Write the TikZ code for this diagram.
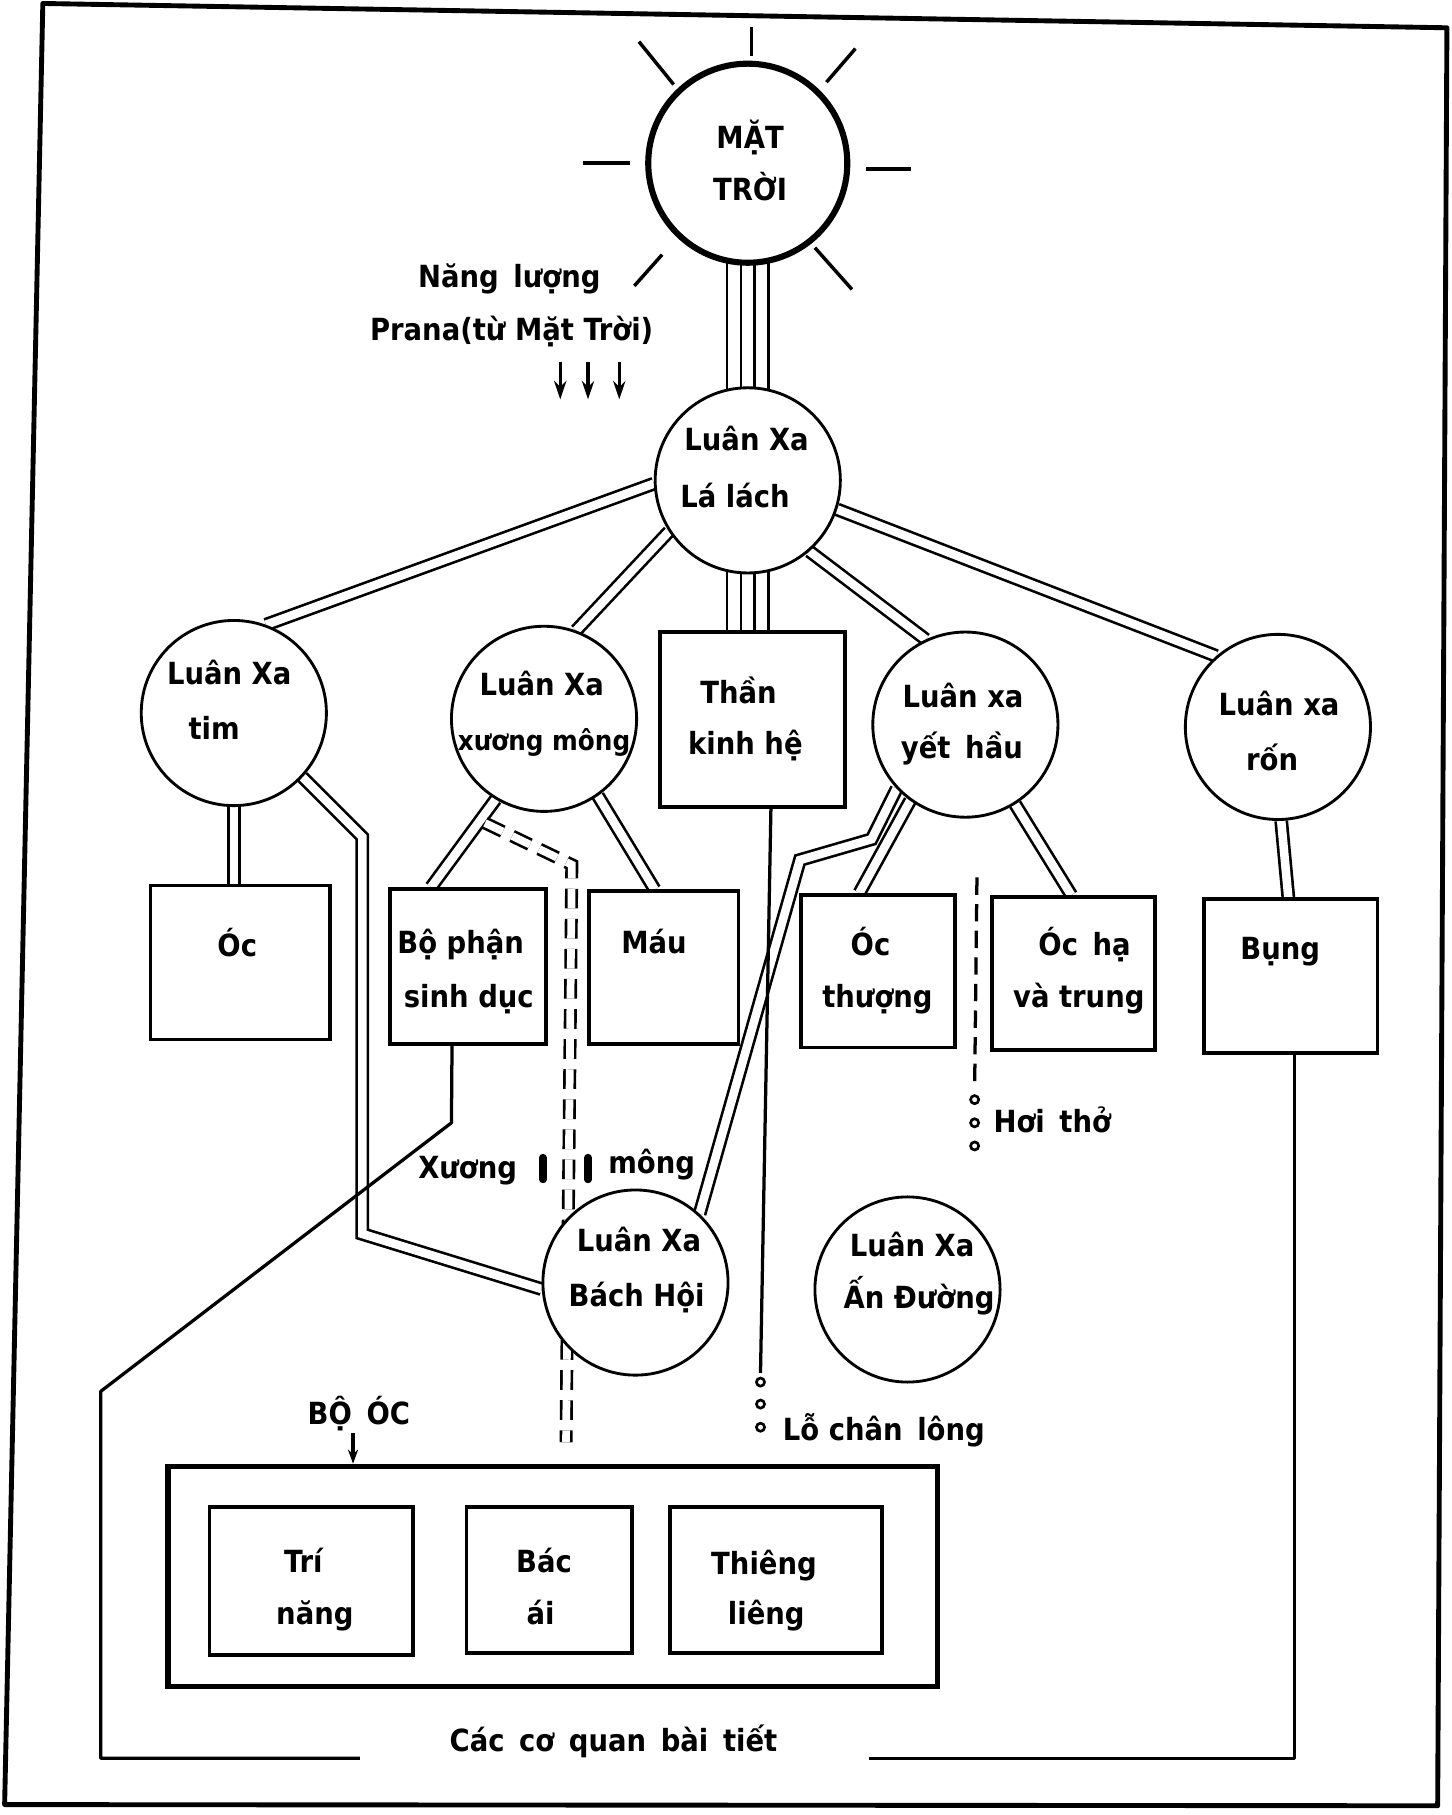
\documentclass[tikz,border=0pt]{standalone}
\usepackage{fontspec}
\setmainfont{DejaVu Sans Condensed}
\usetikzlibrary{calc,arrows.meta}
\pgfdeclarelayer{bg}
\pgfsetlayers{bg,main}
\begin{document}
\begin{tikzpicture}[x=0.02cm,y=-0.02cm,
  chakra/.style={circle,draw,line width=1.4pt,minimum size=3.2cm,inner sep=0pt,fill=white},
  organ/.style={rectangle,draw,line width=1.9pt,fill=white,inner sep=0pt},
  txt/.style={anchor=base,inner sep=0pt,yshift=-0.17cm,font=\bfseries\fontsize{15}{18}\selectfont},
  txtw/.style={txt,anchor=base west},
  dbl/.style={line width=1.3pt,double=white,double distance=4.2pt},
  dbldash/.style={line width=1.3pt,double=white,double distance=3.8pt,dash pattern=on 0.34cm off 0.18cm},
  quad/.style={line width=1.3pt},
  thinl/.style={line width=1.6pt},
  dotc/.style={circle,draw,line width=1.3pt,minimum size=0.14cm,inner sep=0pt,fill=white},
  ray/.style={line width=1.7pt},
]
\useasboundingbox (0,0) rectangle (1254,1568);

% outer frame
\draw[line width=2.4pt,line join=round] (37,3) -- (1250,24) -- (1242,1560) -- (4,1559) -- cycle;

% sun
\node[chakra,line width=3pt,minimum size=3.44cm] (sun) at (646,141) {};
\draw[ray] (649,23) -- (649,48);
\draw[ray] (552,36) -- (582,73);
\draw[ray] (739,42) -- (714,71);
\draw[ray] (504,141) -- (544,141);
\draw[ray] (748,146) -- (787,146);
\draw[ray] (572,220) -- (548,247);
\draw[ray] (704,214) -- (736,250);

% chakras
\node[chakra] (lalach) at (646,415) {};
\node[chakra] (tim) at (202,616) {};
\node[chakra] (xm) at (470,621) {};
\node[chakra] (yh) at (834,626) {};
\node[chakra] (ron) at (1104,628) {};
\node[chakra] (bh) at (549,1108) {};
\node[chakra] (ad) at (784,1114) {};

% boxes
\node[organ,minimum width=3.2cm,minimum height=3.02cm] (tkh) at (650,621.5) {};
\node[organ,minimum width=3.10cm,minimum height=2.66cm] (oc) at (207.5,831.5) {};
\node[organ,minimum width=2.70cm,minimum height=2.68cm] (bp) at (404.5,835) {};
\node[organ,minimum width=2.58cm,minimum height=2.64cm] (mau) at (573.5,836) {};
\node[organ,minimum width=2.66cm,minimum height=2.64cm] (ot) at (758.5,839) {};
\node[organ,minimum width=2.82cm,minimum height=2.64cm] (oh) at (927.5,841) {};
\node[organ,minimum width=3.00cm,minimum height=2.66cm] (bung) at (1115,843.5) {};
\node[organ,line width=2.8pt,minimum width=13.3cm,minimum height=3.8cm] (bigbox) at (477.5,1362) {};
\node[organ,minimum width=3.52cm,minimum height=2.56cm] (tri) at (269,1366) {};
\node[organ,minimum width=2.86cm,minimum height=2.52cm] (bac) at (474.5,1365) {};
\node[organ,minimum width=3.66cm,minimum height=2.52cm] (thieng) at (670.5,1365) {};

% small circles
\node[dotc] (pc1) at (657,1194) {};
\node[dotc] (pc2) at (657,1213) {};
\node[dotc] (pc3) at (657,1233) {};
\node[dotc] (hc1) at (842,950) {};
\node[dotc] (hc2) at (842,970) {};
\node[dotc] (hc3) at (842,990) {};

% coordinates
\coordinate (tk1) at (657,1186);
\coordinate (h1) at (844,758);
\coordinate (h2) at (842,940);
\coordinate (p1) at (390,970);
\coordinate (p2) at (87,1202);
\coordinate (p3) at (87,1519);
\coordinate (p4) at (311,1519);
\coordinate (p5) at (751,1519);
\coordinate (p6) at (1118,1519);
\coordinate (d1) at (419,711);
\coordinate (d2) at (494,747);
\coordinate (d3) at (489,1246);
\coordinate (tb1) at (313,723);
\coordinate (tb2) at (313,1066);
\coordinate (yb1) at (753,725);
\coordinate (yb2) at (691,743);
\coordinate (bocarr) at (305,1238);

\begin{pgfonlayer}{bg}
  \foreach \dx in {-18,-6,6,18} {
    \draw[quad] ($(sun.center)+(\dx,0)$) -- ($(lalach.center)+(\dx,0)$);
    \draw[quad] ($(lalach.center)+(\dx,0)$) -- ($(lalach.center |- tkh.north)+(\dx,0)$);
  }
  \draw[dbl] (lalach.182) -- (tim.70);
  \draw[dbl] (lalach.213) -- (xm.70);
  \draw[dbl] (lalach.311) -- (yh.115);
  \draw[dbl] (lalach.342) -- (ron.131);
  \draw[dbl] (tim.south) -- (tim.south |- oc.north);
  \draw[dbl] (tim.317) -- (tb1) -- (tb2) -- (bh.184);
  \draw[dbl] (xm.239) -- ($(bp.north)+(-32,0)$);
  \draw[dbl] (xm.305) -- ($(mau.north)+(-8,0)$);
  \draw[dbldash] (d1) -- (d2) -- (d3);
  \draw[dbl] (yh.223) -- (yb1) -- (yb2) -- (bh.47);
  \draw[dbl] (yh.234) -- ($(ot.north)+(-16,0)$);
  \draw[dbl] (yh.302) -- ($(oh.north)+(-2,0)$);
  \draw[dbl] (ron.272) -- ($(bung.north)+(-2,0)$);
  % single lines
  \draw[thinl] ($(tkh.south)+(16,0)$) -- (tk1);
  \draw[thinl,dash pattern=on 0.3cm off 0.16cm] (h1) -- (h2);
  \draw[thinl,line join=round] ($(bp.south)+(-14,0)$) -- (p1) -- (p2) -- (p3) -- (p4);
  \draw[thinl,line join=round] (p5) -- (p6) -- (p6 |- bung.south);
  \draw[thinl,-{Stealth[length=7pt,width=5pt]}] (bocarr) -- (bocarr |- bigbox.north);
\end{pgfonlayer}

% energy arrows
\draw[thinl,-{Stealth[length=9pt,width=6pt]}] (484,313) -- (484,345);
\draw[thinl,-{Stealth[length=9pt,width=6pt]}] (508,313) -- (508,345);
\draw[thinl,-{Stealth[length=9pt,width=6pt]}] (535,313) -- (535,345);

% bars at Xuong mong
\draw[line width=3.6pt,line cap=round] (469,1000) -- (469,1019);
\draw[line width=3.6pt,line cap=round] (508,1000) -- (508,1019);

% texts
\node[txt] (t-sun1) at (648,120) {MẶT};
\node[txt] (t-sun2) at (648,165) {TRỜI};
\node[txt] (t-nl1) at (440,240) {Năng\, lượng};
\node[txt] (t-nl2) at (442,286) {Prana(từ Mặt Trời)};
\node[txt] (t-ll1) at (645,381) {Luân Xa};
\node[txt] (t-ll2) at (635,430) {Lá lách};
\node[txt] (t-tim1) at (198,583) {Luân Xa};
\node[txt] (t-tim2) at (185,630) {tim};
\node[txt] (t-xm1) at (468,592) {Luân Xa};
\node[txt,font=\bfseries\fontsize{13.5}{16}\selectfont] (t-xm2) at (470,640) {xương mông};
\node[txt] (t-tk1) at (638,599) {Thần};
\node[txt] (t-tk2) at (644,643) {kinh hệ};
\node[txt] (t-yh1) at (832,603) {Luân xa};
\node[txt] (t-yh2) at (831,647) {yết\, hầu};
\node[txt] (t-ron1) at (1105,610) {Luân xa};
\node[txt] (t-ron2) at (1099,657) {rốn};
\node[txt] (t-oc) at (205,818) {Óc};
\node[txt] (t-bp1) at (398,815) {Bộ phận};
\node[txt] (t-bp2) at (405,862) {sinh dục};
\node[txt] (t-mau) at (565,815) {Máu};
\node[txt] (t-ot1) at (752,817) {Óc};
\node[txt] (t-ot2) at (758,862) {thượng};
\node[txt] (t-oh1) at (937,817) {Óc\, hạ};
\node[txt] (t-oh2) at (932,862) {và trung};
\node[txt] (t-bung) at (1106,820) {Bụng};
\node[txtw] (t-hoi) at (858,970) {Hơi\, thở};
\node[txt] (t-xuong) at (404,1010) {Xương};
\node[txt] (t-mong) at (563,1005) {mông};
\node[txt] (t-bh1) at (552,1073) {Luân Xa};
\node[txt] (t-bh2) at (550,1120) {Bách Hội};
\node[txt] (t-ad1) at (788,1077) {Luân Xa};
\node[txt] (t-ad2) at (794,1122) {Ấn Đường};
\node[txtw] (t-lo) at (676,1236) {Lỗ chân\, lông};
\node[txt] (t-boc) at (310,1222) {BỘ\, ÓC};
\node[txt] (t-tri1) at (262,1350) {Trí};
\node[txt] (t-tri2) at (272,1395) {năng};
\node[txt] (t-bac1) at (470,1350) {Bác};
\node[txt] (t-bac2) at (467,1395) {ái};
\node[txt] (t-th1) at (660,1352) {Thiêng};
\node[txt] (t-th2) at (662,1395) {liêng};
\node[txt] (t-cac) at (530,1505) {Các\, cơ\, quan\, bài\, tiết};
\end{tikzpicture}
\end{document}
